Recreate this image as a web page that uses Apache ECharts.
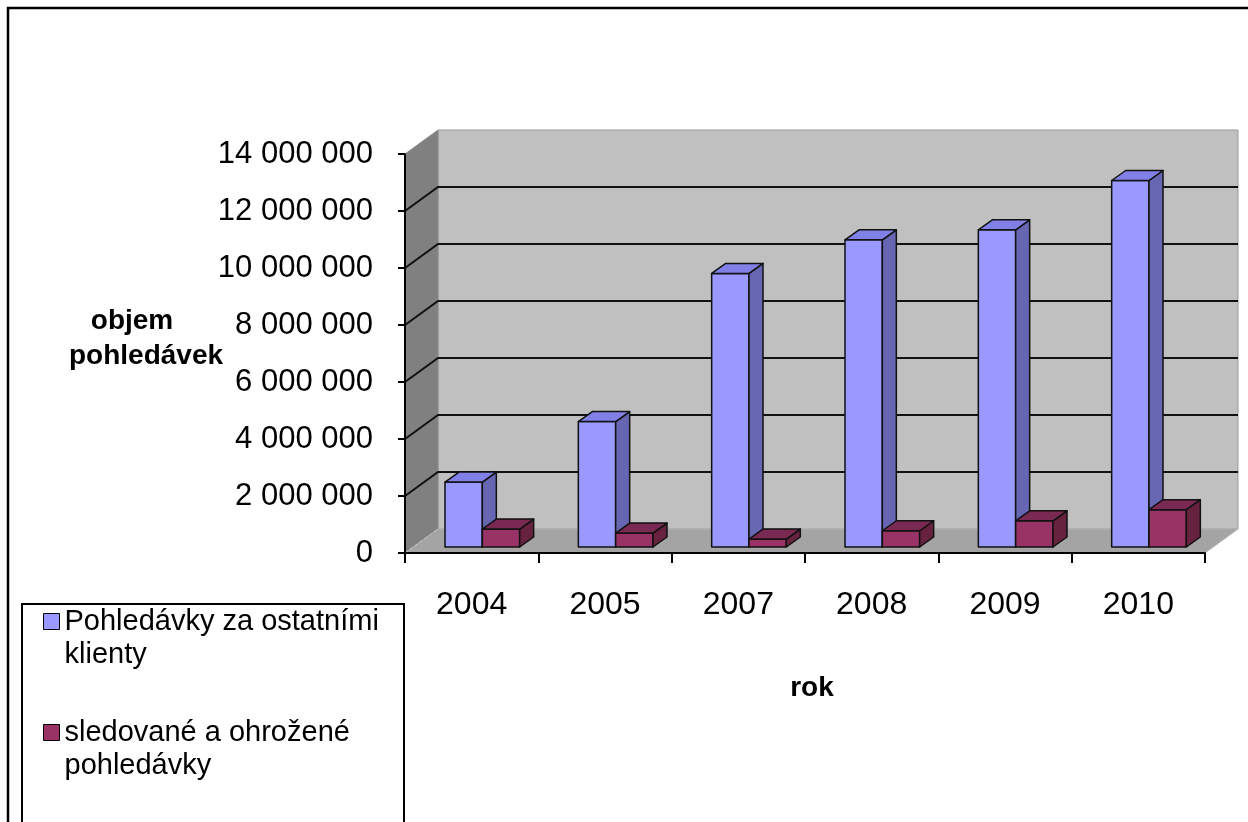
<!DOCTYPE html>
<html>
<head>
<meta charset="utf-8">
<script src="https://cdn.jsdelivr.net/npm/echarts@6/dist/echarts.min.js"></script>
<style>
  html, body { margin: 0; padding: 0; background: #fff; }
  #chart { width: 1248px; height: 822px; }
</style>
</head>
<body>
<div id="chart"></div>
<script>
// Data
const years = ['2004', '2005', '2007', '2008', '2009', '2010'];
const ostatniKlienti = [2280000, 4400000, 9600000, 10780000, 11130000, 12860000];
const sledovaneOhrozene = [630000, 490000, 280000, 570000, 920000, 1310000];
const seriesNames = ['Pohledávky za ostatními klienty', 'sledované a ohrožené pohledávky'];
const legendLines = [['Pohledávky za ostatními', 'klienty'], ['sledované a ohrožené', 'pohledávky']];
const yMin = 0, yMax = 14000000, yStep = 2000000;

const FONT = '"Liberation Sans", Arial, sans-serif';

// Oblique depth of the plot box (back wall) and of the columns
const WALL_DX = 33, WALL_DY = -24;
const BAR_DX = 14, BAR_DY = -10;
const BAR_LIFT = -6;          // columns stand slightly behind the floor's front edge
const BAR_W = 0.28;           // column width as a share of the category band

function fmt(v) {
  return String(v).replace(/\B(?=(\d{3})+(?!\d))/g, ' ');
}

// Walls, floor and gridlines of the 3D box, laid out on the value axis
function renderBackdrop(params, api) {
  const cs = params.coordSys;
  const x0 = cs.x, x1 = cs.x + cs.width;
  const yBase = api.coord([0, yMin])[1];
  const yTop = api.coord([0, yMax])[1];
  const children = [];
  children.push({
    type: 'rect',
    shape: { x: x0 + WALL_DX, y: yTop + WALL_DY, width: x1 - x0, height: yBase - yTop },
    style: { fill: '#C0C0C0', stroke: '#9a9a9a', lineWidth: 1 }
  });
  children.push({
    type: 'polygon',
    shape: { points: [[x0, yTop], [x0 + WALL_DX, yTop + WALL_DY], [x0 + WALL_DX, yBase + WALL_DY], [x0, yBase]] },
    style: { fill: '#808080', stroke: '#8c8c8c', lineWidth: 1 }
  });
  children.push({
    type: 'polygon',
    shape: { points: [[x0, yBase], [x0 + WALL_DX, yBase + WALL_DY], [x1 + WALL_DX, yBase + WALL_DY], [x1, yBase]] },
    style: { fill: '#A4A4A4', stroke: '#b4b4b4', lineWidth: 1 }
  });
  for (let v = yMin; v <= yMax; v += yStep) {
    const y = api.coord([0, v])[1];
    if (v === yMin) {
      children.push({
        type: 'line',
        shape: { x1: x0, y1: y, x2: x0 + WALL_DX, y2: y + WALL_DY },
        style: { stroke: '#c8c8c8', lineWidth: 1, lineDash: [3, 3] }
      });
    } else if (v < yMax) {
      children.push({
        type: 'polyline',
        shape: { points: [[x0, y], [x0 + WALL_DX, y + WALL_DY], [x1 + WALL_DX, y + WALL_DY]] },
        style: { stroke: '#111', lineWidth: 2, fill: null }
      });
    }
  }
  return { type: 'group', children: children };
}

// A 3D column: front face, top face and right side face
function columnRenderer(offset, colors) {
  return function (params, api) {
    const idx = api.value(0);
    const val = api.value(1);
    const band = api.size([1, 0])[0];
    const base = api.coord([idx, 0]);
    const top = api.coord([idx, val]);
    const xl = base[0] + band * offset;
    const xr = xl + band * BAR_W;
    const yb = base[1] + BAR_LIFT;
    const yt = top[1] + BAR_LIFT;
    const line = { stroke: '#111', lineWidth: 1.5, lineJoin: 'round' };
    return {
      type: 'group',
      children: [
        { type: 'rect', shape: { x: xl, y: yt, width: xr - xl, height: yb - yt },
          style: Object.assign({ fill: colors[0] }, line) },
        { type: 'polygon', shape: { points: [[xr, yt], [xr + BAR_DX, yt + BAR_DY], [xr + BAR_DX, yb + BAR_DY], [xr, yb]] },
          style: Object.assign({ fill: colors[2] }, line) },
        { type: 'polygon', shape: { points: [[xl, yt], [xr, yt], [xr + BAR_DX, yt + BAR_DY], [xl + BAR_DX, yt + BAR_DY]] },
          style: Object.assign({ fill: colors[1] }, line) }
      ]
    };
  };
}

const chart = echarts.init(document.getElementById('chart'), null, { renderer: 'canvas' });

chart.setOption({
  backgroundColor: '#ffffff',
  animation: false,
  textStyle: { fontFamily: FONT },
  grid: { left: 405, right: 43, top: 154, bottom: 269, containLabel: false },
  xAxis: {
    type: 'category',
    data: years,
    z: 5,
    axisLine: { show: true, lineStyle: { color: '#000', width: 2 } },
    axisTick: { show: true, length: 10, alignWithLabel: false, lineStyle: { color: '#000', width: 2 } },
    axisLabel: { fontFamily: FONT, fontSize: 32, color: '#000', margin: 36 },
    splitLine: { show: false }
  },
  yAxis: {
    type: 'value',
    min: yMin, max: yMax, interval: yStep,
    z: 5,
    axisLine: { show: true, lineStyle: { color: '#000', width: 2 } },
    axisTick: { show: true, length: 7, lineStyle: { color: '#000', width: 2 } },
    axisLabel: { fontFamily: FONT, fontSize: 31, color: '#000', margin: 32, formatter: fmt },
    splitLine: { show: false }
  },
  legend: {
    orient: 'vertical',
    left: 43, top: 572,
    padding: 0,
    itemGap: 12,
    itemWidth: 16, itemHeight: 16,
    icon: 'rect',
    selectedMode: false,
    itemStyle: { borderColor: '#000', borderWidth: 1 },
    textStyle: { fontFamily: FONT, fontSize: 29, lineHeight: 33, color: '#000' },
    // leading blank line keeps the marker level with the first text line
    formatter: function (name) {
      return '\n' + legendLines[seriesNames.indexOf(name)].join('\n');
    },
    data: seriesNames
  },
  graphic: [
    { type: 'rect', z: -10, shape: { x: 8, y: 8, width: 1260, height: 840 },
      style: { fill: '#fff', stroke: '#000', lineWidth: 2.5 } },
    { type: 'rect', z: 1, shape: { x: 22, y: 604, width: 382, height: 240 },
      style: { fill: '#fff', stroke: '#000', lineWidth: 2 } },
    { type: 'text', z: 5, style: { text: 'objem', x: 132, y: 321, align: 'center', verticalAlign: 'middle',
      font: 'bold 28px ' + FONT, fill: '#000' } },
    { type: 'text', z: 5, style: { text: 'pohledávek', x: 146, y: 356, align: 'center', verticalAlign: 'middle',
      font: 'bold 28px ' + FONT, fill: '#000' } },
    { type: 'text', z: 5, style: { text: 'rok', x: 812, y: 688, align: 'center', verticalAlign: 'middle',
      font: 'bold 28px ' + FONT, fill: '#000' } }
  ],
  series: [
    {
      name: 'backdrop',
      type: 'custom',
      z: 1,
      clip: false,
      silent: true,
      renderItem: renderBackdrop,
      data: [[0, 0]],
      encode: { x: 0, y: 1 }
    },
    {
      name: seriesNames[0],
      type: 'custom',
      z: 2,
      clip: false,
      itemStyle: { color: '#9999FF' },
      renderItem: columnRenderer(-0.2, ['#9999FF', '#8080E6', '#6666B3']),
      data: years.map(function (y, i) { return [i, ostatniKlienti[i]]; }),
      encode: { x: 0, y: 1 }
    },
    {
      name: seriesNames[1],
      type: 'custom',
      z: 3,
      clip: false,
      itemStyle: { color: '#993366' },
      renderItem: columnRenderer(0.08, ['#993366', '#7A2952', '#66223F']),
      data: years.map(function (y, i) { return [i, sledovaneOhrozene[i]]; }),
      encode: { x: 0, y: 1 }
    }
  ]
});
</script>
</body>
</html>
